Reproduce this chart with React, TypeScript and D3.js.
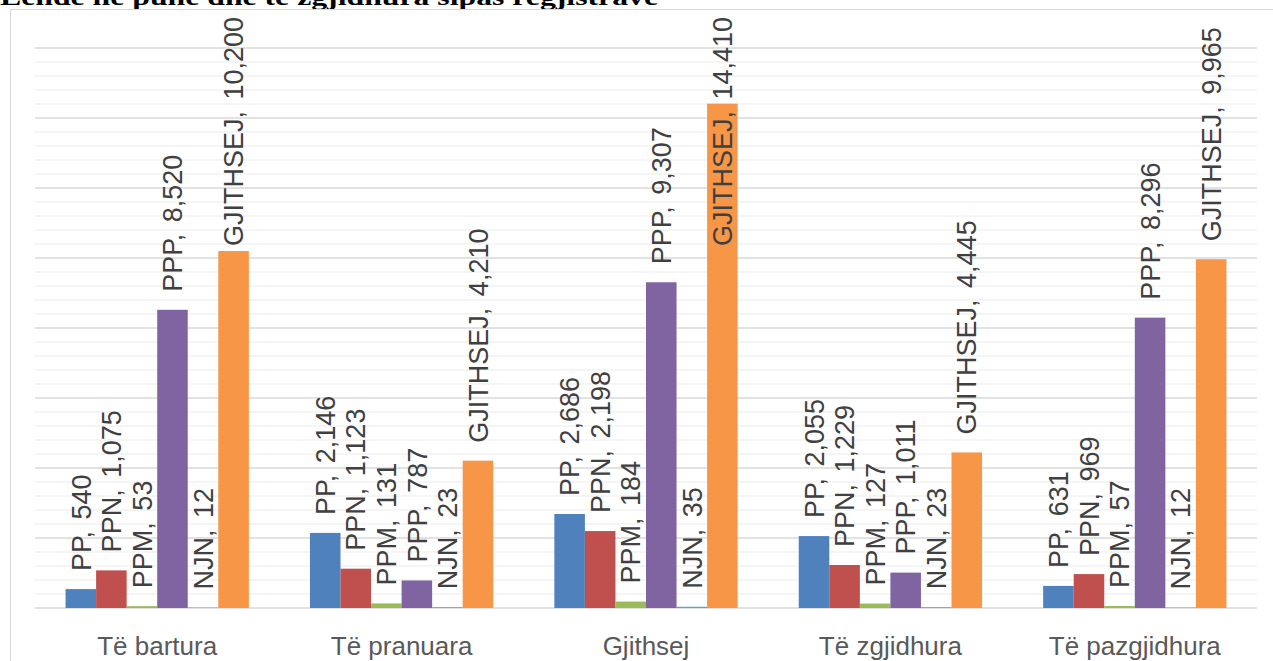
import React from "react";
import * as d3 from "d3";

const categories = ["Të bartura", "Të pranuara", "Gjithsej", "Të zgjidhura", "Të pazgjidhura"];
const seriesNames = ["PP", "PPN", "PPM", "PPP", "NJN", "GJITHSEJ"];
const seriesColors = ["#4F81BD", "#C0504D", "#9BBB59", "#8064A2", "#4BACC6", "#F79646"];
const valuesPP = [540, 2146, 2686, 2055, 631];
const valuesPPN = [1075, 1123, 2198, 1229, 969];
const valuesPPM = [53, 131, 184, 127, 57];
const valuesPPP = [8520, 787, 9307, 1011, 8296];
const valuesNJN = [12, 23, 35, 23, 12];
const valuesGJITHSEJ = [10200, 4210, 14410, 4445, 9965];
const seriesValues = [valuesPP, valuesPPN, valuesPPM, valuesPPP, valuesNJN, valuesGJITHSEJ];
const titleText = "Lëndë në punë dhe të zgjidhura sipas regjistrave";

const W = 1273;
const H = 661;
const plotLeft = 35;
const plotRight = 1257;
const plotTop = 48;
const plotBottom = 608;
const labelFontFamily = "'Liberation Sans', Arial, sans-serif";
const labelFont = 27;
const extraSpace = 4;

let measureCtx: CanvasRenderingContext2D | null = null;
function measure(text: string): number {
  if (typeof document === "undefined") return text.length * labelFont * 0.53;
  if (!measureCtx) measureCtx = document.createElement("canvas").getContext("2d");
  if (!measureCtx) return text.length * labelFont * 0.53;
  measureCtx.font = `${labelFont}px ${labelFontFamily}`;
  return measureCtx.measureText(text).width;
}

export default function App() {
  const x0 = d3.scaleBand<string>().domain(categories).range([plotLeft, plotRight]).paddingInner(0.25).paddingOuter(0.125);
  const x1 = d3.scaleBand<string>().domain(seriesNames).range([0, x0.bandwidth()]);
  const y = d3.scaleLinear().domain([0, 16000]).range([plotBottom, plotTop]);
  const major = d3.range(0, 16001, 2000);
  const minor = d3.range(0, 16001, 400).filter((v) => v % 2000 !== 0);
  const fmt = d3.format(",");
  const gap = 18;
  const minTop = 17;

  return (
    <svg width={W} height={H} style={{ position: "fixed", left: 0, top: 0, background: "#fff" }}>
      <rect x={0} y={0} width={W} height={H} fill="#fff" />
      <text x={0} y={5} fontFamily="'Liberation Serif', serif" fontWeight="bold" fontSize={23} fill="#000" textLength={658} lengthAdjust="spacingAndGlyphs">
        {titleText}
      </text>
      <rect x={10.5} y={9.5} width={1400} height={800} fill="#fff" stroke="#d9d9d9" strokeWidth={1} />
      {minor.map((v) => (
        <line key={"mi" + v} x1={plotLeft} x2={plotRight} y1={y(v)} y2={y(v)} stroke="#f2f2f2" strokeWidth={1.5} />
      ))}
      {major.map((v) => (
        <line key={"ma" + v} x1={plotLeft} x2={plotRight} y1={y(v)} y2={y(v)} stroke="#d9d9d9" strokeWidth={1.5} />
      ))}
      {categories.map((c, ci) => (
        <g key={c}>
          {seriesNames.map((s, si) => {
            const v = seriesValues[si][ci];
            const bx = (x0(c) as number) + (x1(s) as number);
            const bw = x1.bandwidth();
            return (
              <rect key={s} x={bx} y={y(v)} width={bw} height={plotBottom - y(v)} fill={seriesColors[si]} />
            );
          })}
        </g>
      ))}
      {categories.map((c, ci) => (
        <g key={"l" + c}>
          {seriesNames.map((s, si) => {
            const v = seriesValues[si][ci];
            const cx = (x0(c) as number) + (x1(s) as number) + x1.bandwidth() / 2;
            const head = `${s},`;
            const tail = ` ${fmt(v)}`;
            const len = measure(head + tail) + extraSpace;
            let start = y(v) - gap;
            if (start - len < minTop) start = minTop + len;
            return (
              <text
                key={s}
                transform={`translate(${cx + labelFont * 0.36},${start}) rotate(-90)`}
                fontFamily={labelFontFamily}
                fontSize={labelFont}
                fill="#404040"
                textAnchor="start"
              >
                <tspan>{head}</tspan>
                <tspan dx={extraSpace}>{tail}</tspan>
              </text>
            );
          })}
        </g>
      ))}
      {categories.map((c) => (
        <text
          key={"c" + c}
          x={(x0(c) as number) + x0.bandwidth() / 2}
          y={655}
          textAnchor="middle"
          fontFamily={labelFontFamily}
          fontSize={26}
          fill="#595959"
        >
          {c}
        </text>
      ))}
    </svg>
  );
}
